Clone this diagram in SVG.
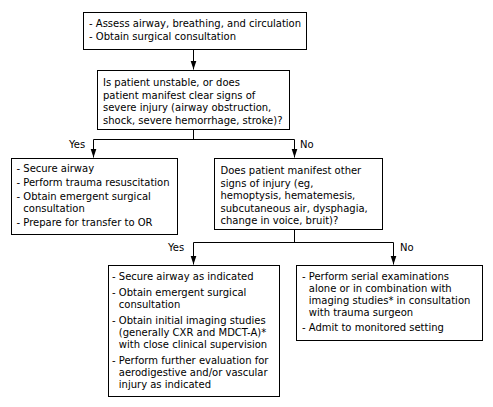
<svg xmlns="http://www.w3.org/2000/svg" width="493" height="407" viewBox="0 0 493 407">
<defs>
<style>
.box{fill:#fff;stroke:#000;stroke-width:1}
text{font-family:"DejaVu Sans",Verdana,sans-serif;font-size:10px;fill:#000}
.ln{fill:none;stroke:#000;stroke-width:1}
</style>
<marker id="ah" viewBox="0 0 9 10" refX="9" refY="5" markerWidth="9" markerHeight="10" markerUnits="userSpaceOnUse" orient="auto">
<path d="M0,2 L9,5 L0,8 Z" fill="#000"/>
</marker>
</defs>
<rect width="493" height="407" fill="#fff"/>
<g id="connectors">
<path class="ln" d="M193.5,49.5 V69.5" marker-end="url(#ah)"/>
<path class="ln" d="M193.5,129.5 V139.5 M93.5,139.5 H294.5"/>
<path class="ln" d="M93.5,139.5 V157.5" marker-end="url(#ah)"/>
<path class="ln" d="M294.5,139.5 V157.5" marker-end="url(#ah)"/>
<path class="ln" d="M294.5,229.5 V242.5 M193.5,242.5 H393.5"/>
<path class="ln" d="M193.5,242.5 V264.5" marker-end="url(#ah)"/>
<path class="ln" d="M393.5,242.5 V264.5" marker-end="url(#ah)"/>
<text x="69" y="148">Yes</text>
<text x="300" y="148">No</text>
<text x="168" y="251">Yes</text>
<text x="400" y="251">No</text>
</g>
<g id="n1">
<rect class="box" x="83.5" y="12.5" width="223" height="37"/>
<text x="89" y="27">- Assess airway, breathing, and circulation</text>
<text x="89" y="40">- Obtain surgical consultation</text>
</g>
<g id="n2">
<rect class="box" x="97.5" y="70.5" width="192" height="59"/>
<text x="103" y="86">Is patient unstable, or does</text>
<text x="103" y="98.5">patient manifest clear signs of</text>
<text x="103" y="111">severe injury (airway obstruction,</text>
<text x="103" y="123.5">shock, severe hemorrhage, stroke)?</text>
</g>
<g id="n3">
<rect class="box" x="11.5" y="158.5" width="166" height="76"/>
<text x="16.5" y="172">- Secure airway</text>
<text x="16.5" y="186">- Perform trauma resuscitation</text>
<text x="16.5" y="200">- Obtain emergent surgical</text>
<text x="23.3" y="212">consultation</text>
<text x="16.5" y="226">- Prepare for transfer to OR</text>
</g>
<g id="n4">
<rect class="box" x="214.5" y="158.5" width="168" height="71"/>
<text x="220.5" y="174">Does patient manifest other</text>
<text x="220.5" y="186.5">signs of injury (eg,</text>
<text x="220.5" y="199">hemoptysis, hematemesis,</text>
<text x="220.5" y="211.5">subcutaneous air, dysphagia,</text>
<text x="220.5" y="224">change in voice, bruit)?</text>
</g>
<g id="n5">
<rect class="box" x="108.5" y="265.5" width="171" height="131"/>
<text x="112" y="280">- Secure airway as indicated</text>
<text x="112" y="296">- Obtain emergent surgical</text>
<text x="118.8" y="308">consultation</text>
<text x="112" y="324">- Obtain initial imaging studies</text>
<text x="118.8" y="336">(generally CXR and MDCT-A)*</text>
<text x="118.8" y="348">with close clinical supervision</text>
<text x="112" y="364">- Perform further evaluation for</text>
<text x="118.8" y="376">aerodigestive and/or vascular</text>
<text x="118.8" y="388">injury as indicated</text>
</g>
<g id="n6">
<rect class="box" x="296.5" y="265.5" width="186" height="75"/>
<text x="302" y="280">- Perform serial examinations</text>
<text x="308.8" y="292">alone or in combination with</text>
<text x="308.8" y="304">imaging studies* in consultation</text>
<text x="308.8" y="316">with trauma surgeon</text>
<text x="302" y="331">- Admit to monitored setting</text>
</g>
</svg>
